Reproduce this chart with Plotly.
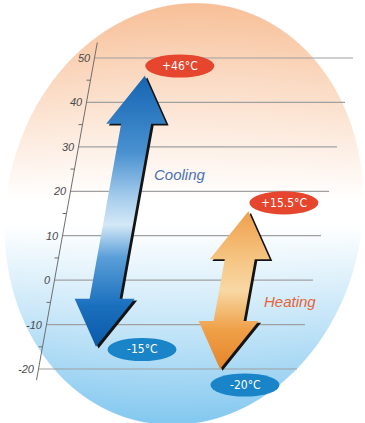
import base64
import struct
import zlib

import numpy as np
import plotly.graph_objects as go

# ---- data -------------------------------------------------------------
tick_values = [50, 40, 30, 20, 10, 0, -10, -20]
tick_labels = ["50", "40", "30", "20", "10", "0", "-10", "-20"]
minor_ticks = [45, 35, 25, 15, 5, -5, -15]

cooling_range = [-15, 46]      # degC, low / high limit
heating_range = [-20, 15.5]    # degC, low / high limit
mode_names = ["Cooling", "Heating"]

# ---- frame / geometry ---------------------------------------------------
W, H = 365, 423
Y_RANGE = [-32.15, 63.05]      # degrees shown from bottom to top edge
SLANT = 0.8                    # rightward lean of the scale, px per degree
AXIS_X0 = 54.5                 # x of the scale line at 0 degC
GRID_LEN = 258.5


def axis_x(t):
    return AXIS_X0 + SLANT * t


def png_data_uri(rgba):
    h, w, _ = rgba.shape
    raw = b"".join(b"\x00" + rgba[i].tobytes() for i in range(h))

    def chunk(tag, data):
        c = struct.pack(">I", len(data)) + tag + data
        return c + struct.pack(">I", zlib.crc32(tag + data) & 0xFFFFFFFF)

    png = b"\x89PNG\r\n\x1a\n"
    png += chunk(b"IHDR", struct.pack(">IIBBBBB", w, h, 8, 6, 0, 0, 0))
    png += chunk(b"IDAT", zlib.compress(raw, 9))
    png += chunk(b"IEND", b"")
    return "data:image/png;base64," + base64.b64encode(png).decode()


def backdrop():
    # tilted oval, warm at the top, white in the middle, cool at the bottom
    cx, cy, a, b, th = 184.0, 214.0, 178.0, 212.0, np.radians(11)
    py, px = np.mgrid[0:H, 0:W].astype(float)
    X = px + 0.5 - cx
    Y = -(py + 0.5 - cy)
    u = X * np.cos(th) - Y * np.sin(th)
    v = X * np.sin(th) + Y * np.cos(th)
    rho = np.sqrt((u / a) ** 2 + (v / b) ** 2)
    alpha = np.clip((1 - rho) * a + 0.5, 0, 1)

    yy = py + 0.5
    edge = 0.9 + 0.15 * rho ** 2
    warm = np.array([246, 182, 136], float)
    cool = np.array([118, 194, 238], float)
    white = np.array([255, 255, 255], float)
    iw = np.clip(0.85 * np.clip((200 - yy) / 200, 0, 1) * edge, 0, 1)
    ic = np.clip(0.85 * np.clip((yy - 225) / 195, 0, 1) * edge, 0, 1)
    col = (white
           + (warm - white) * iw[..., None]
           + (cool - white) * ic[..., None])
    rgba = np.dstack([col, alpha[..., None] * 255]).round().clip(0, 255)
    return png_data_uri(rgba.astype(np.uint8))


def arrow_xy(x0, lo, hi, head_len=10.8, head_half=30.0, shaft_half=15.0):
    pts = [(0, hi), (head_half, hi - head_len), (shaft_half, hi - head_len),
           (shaft_half, lo + head_len), (head_half, lo + head_len), (0, lo),
           (-head_half, lo + head_len), (-shaft_half, lo + head_len),
           (-shaft_half, hi - head_len), (-head_half, hi - head_len), (0, hi)]
    xs = [x0 + SLANT * t + o for o, t in pts]
    ys = [t for o, t in pts]
    return xs, ys


fig = go.Figure()

# gridlines and slanted scale
gx, gy = [], []
for t in tick_values:
    gx += [axis_x(t), axis_x(t) + GRID_LEN, None]
    gy += [t, t, None]
fig.add_trace(go.Scatter(x=gx, y=gy, mode="lines",
                         line=dict(color="#a0a0a0", width=1.2),
                         hoverinfo="skip", showlegend=False))

mx, my = [], []
for t in minor_ticks:
    mx += [axis_x(t) - 4, axis_x(t), None]
    my += [t, t, None]
fig.add_trace(go.Scatter(x=mx, y=my, mode="lines",
                         line=dict(color="#6e6e6e", width=1),
                         hoverinfo="skip", showlegend=False))

fig.add_trace(go.Scatter(x=[axis_x(53.5), axis_x(-22.5)], y=[53.5, -22.5],
                         mode="lines", line=dict(color="#6e6e6e", width=1),
                         hoverinfo="skip", showlegend=False))

for t, lab in zip(tick_values, tick_labels):
    fig.add_annotation(x=axis_x(t) - 2, y=t, text=lab, showarrow=False,
                       xanchor="right", yanchor="middle",
                       font=dict(family="Liberation Sans, Arial", size=11,
                                 color="#4a4a4a", style="italic"))

# the two operating-range arrows
arrows = [
    dict(name=mode_names[0], rng=cooling_range, x0=108.0,
         scale=[[0, "#0b5aa8"], [0.15, "#1a6fbd"], [0.33, "#5a9fd8"],
                [0.45, "#d4e8f7"], [0.55, "#a6cdec"], [0.72, "#4890d0"],
                [1, "#1565b2"]],
         text_color="#4a72b4", text_dx=53, text_t=23.7),
    dict(name=mode_names[1], rng=heating_range, x0=236.0,
         scale=[[0, "#e5852a"], [0.25, "#efa048"], [0.5, "#f8d8a4"],
                [0.72, "#f5c27e"], [1, "#ef9f4c"]],
         text_color="#e4643a", text_dx=58, text_t=-4.9),
]
badge_pos = {  # (dx px, dT) from each arrow tip
    (0, "hi"): (35, 2.2), (0, "lo"): (46, -0.6),
    (1, "hi"): (35.5, 1.9), (1, "lo"): (25, -3.6),
}
badge_font = "DejaVu Sans Condensed, Liberation Sans Narrow, Liberation Sans"

for i, a in enumerate(arrows):
    lo, hi = a["rng"]
    xs, ys = arrow_xy(a["x0"], lo, hi)
    fig.add_trace(go.Scatter(x=[x + 2.5 for x in xs], y=[y - 0.4 for y in ys],
                             fill="toself", fillcolor="#141414", mode="lines",
                             line=dict(width=0), hoverinfo="skip",
                             showlegend=False))
    fig.add_trace(go.Scatter(x=xs, y=ys, fill="toself", mode="lines",
                             fillgradient=dict(type="vertical",
                                               colorscale=a["scale"]),
                             line=dict(width=0), hoverinfo="skip",
                             showlegend=False))
    fig.add_annotation(x=a["x0"] + SLANT * a["text_t"] + a["text_dx"],
                       y=a["text_t"], text=a["name"], showarrow=False,
                       font=dict(family="Liberation Sans, Arial", size=15,
                                 color=a["text_color"], style="italic"))
    for key, val, fill in (("hi", hi, "#e5462d"), ("lo", lo, "#1a84c8")):
        dx, dt = badge_pos[(i, key)]
        cx = a["x0"] + SLANT * val + dx
        cy = val + dt
        fig.add_shape(type="circle", xref="x", yref="y",
                      x0=cx - 34.5, x1=cx + 34.5, y0=cy - 2.6, y1=cy + 2.6,
                      fillcolor=fill, line=dict(width=0), layer="above")
        fig.add_annotation(x=cx, y=cy, text=f"{val:+g}°C", showarrow=False,
                           font=dict(family=badge_font, size=12,
                                     color="white"))

fig.update_layout(
    width=W, height=H, autosize=False,
    margin=dict(l=0, r=0, t=0, b=0, pad=0),
    paper_bgcolor="white", plot_bgcolor="rgba(0,0,0,0)",
    xaxis=dict(range=[0, W], visible=False, fixedrange=True),
    yaxis=dict(range=Y_RANGE, visible=False, fixedrange=True),
    images=[dict(source=backdrop(), xref="paper", yref="paper", x=0, y=1,
                 sizex=1, sizey=1, xanchor="left", yanchor="top",
                 sizing="stretch", layer="below")],
    showlegend=False,
)

fig.write_html("out.html", config={"displayModeBar": False})
